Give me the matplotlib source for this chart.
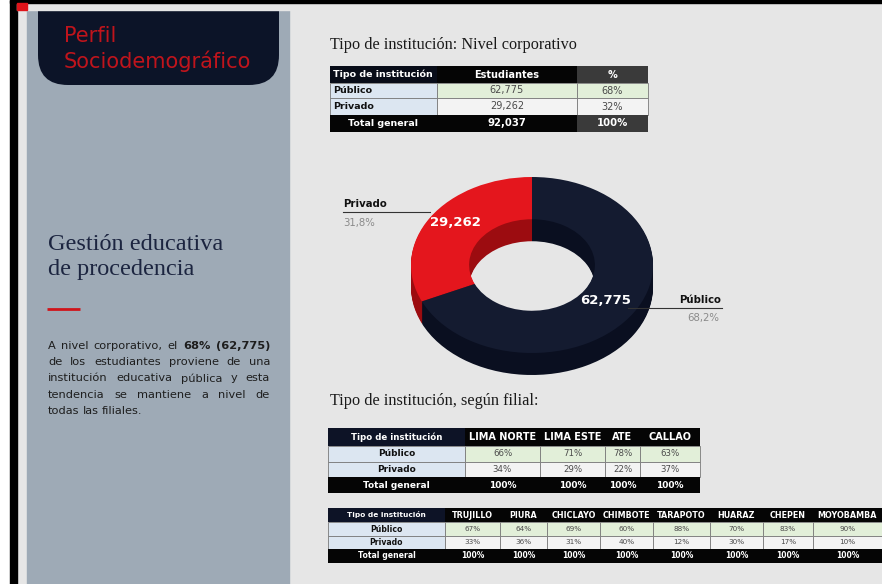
import matplotlib
matplotlib.use("Agg")
import matplotlib.pyplot as plt
from matplotlib.patches import Rectangle, FancyBboxPatch

# ---------------- data ----------------
tipos = ["Público", "Privado"]
estudiantes = [62775, 29262]
filiales_lima = ["LIMA NORTE", "LIMA ESTE", "ATE", "CALLAO"]
publico_lima = [66, 71, 78, 63]
privado_lima = [34, 29, 22, 37]
filiales_prov = ["TRUJILLO", "PIURA", "CHICLAYO", "CHIMBOTE", "TARAPOTO",
                 "HUARAZ", "CHEPEN", "MOYOBAMBA"]
publico_prov = [67, 64, 69, 60, 88, 70, 83, 90]
privado_prov = [33, 36, 31, 40, 12, 30, 17, 10]

total = sum(estudiantes)
pcts = [round(v / total * 100) for v in estudiantes]

W, H = 882, 584
fig = plt.figure(figsize=(W / 100, H / 100), dpi=100)
fig.patch.set_facecolor("#e6e6e6")

bg = fig.add_axes([0, 0, 1, 1])
bg.set_xlim(0, W); bg.set_ylim(H, 0); bg.axis("off")

SANS = ["DejaVu Sans"]
SERIF = ["Liberation Serif", "DejaVu Serif"]
RED = "#e4161d"

# ---- page frame & left panel ----
bg.add_patch(Rectangle((0, 0), W, H, color="#e6e6e6", zorder=0))
bg.add_patch(Rectangle((0, 0), 10, H, color="white", zorder=1))
bg.add_patch(Rectangle((10, 0), 7, H, color="black", zorder=1))
bg.add_patch(Rectangle((27, 10), 262, H - 10, color="#9eaab6", zorder=1))
hdr = FancyBboxPatch((38, -40), 241, 125, boxstyle="round,pad=0,rounding_size=30",
                     facecolor="#0c1428", edgecolor="none", zorder=2)
bg.add_patch(hdr)
bg.add_patch(Rectangle((17, 0), W - 17, 10, color="#e6e6e6", zorder=3))
bg.add_patch(Rectangle((10, 0), W - 10, 2.5, color="black", zorder=4))
bg.add_patch(Rectangle((17, 3), 10, 7, color="#e0141a", zorder=4))

bg.text(64, 36, "Perfil", color="#c0141c", fontsize=15, family=SANS, va="center", zorder=5)
bg.text(64, 61, "Sociodemográfico", color="#c0141c", fontsize=15, family=SANS, va="center", zorder=5)

bg.text(48, 245, "Gestión educativa", color="#1c2540", fontsize=17.5, family=SERIF, va="center", zorder=5)
bg.text(48, 270, "de procedencia", color="#1c2540", fontsize=17.5, family=SERIF, va="center", zorder=5)
bg.plot([47, 80], [309, 309], color="#d0141a", lw=2, zorder=5, solid_capstyle="butt")

# ---- justified paragraph ----
para_lines = [
    f"A nivel corporativo, el {pcts[0]}% ({estudiantes[0]:,})",
    "de los estudiantes proviene de una",
    "institución educativa pública y esta",
    "tendencia se mantiene a nivel de",
    "todas las filiales.",
]
bold_words = {f"{pcts[0]}%", f"({estudiantes[0]:,})"}
renderer = fig.canvas.get_renderer()
x0, x1, y0, dy = 48, 270, 346, 16.2
for i, line in enumerate(para_lines):
    words = line.split()
    arts = [bg.text(0, y0 + i * dy, w, fontsize=8.2, family=SANS, color="#1e1e1e",
                    fontweight="bold" if w in bold_words else "normal",
                    va="center", ha="left", zorder=5) for w in words]
    widths = [a.get_window_extent(renderer).width for a in arts]
    if i == len(para_lines) - 1:
        gap = 3
    else:
        gap = (x1 - x0 - sum(widths)) / (len(words) - 1)
    x = x0
    for a, wd in zip(arts, widths):
        a.set_x(x)
        x += wd + gap

# ---- titles ----
bg.text(330, 45, "Tipo de institución: Nivel corporativo", fontsize=11.7, family=SERIF,
        color="#1a1a1a", va="center", zorder=5)
bg.text(330, 401, "Tipo de institución, según filial:", fontsize=11.7, family=SERIF,
        color="#1a1a1a", va="center", zorder=5)


# ---- generic table ----
def draw_table(cols, rows_y, header, body, foot, hsize, lsize, vsize,
               label_left=False, dark_last=False, first_hdr="#0d1326"):
    nrow = len(body)
    for c in range(len(header)):
        xa, xb = cols[c], cols[c + 1]
        fc = first_hdr if c == 0 else "#050505"
        if dark_last and c == len(header) - 1:
            fc = "#3a3a3a"
        bg.add_patch(Rectangle((xa, rows_y[0]), xb - xa, rows_y[1] - rows_y[0],
                               facecolor=fc, edgecolor="none", zorder=5))
        if c == 0 and label_left:
            bg.text(xa + 3, (rows_y[0] + rows_y[1]) / 2, header[c], color="white",
                    fontsize=lsize, fontweight="bold", family=SANS, va="center", ha="left", zorder=6)
        else:
            bg.text((xa + xb) / 2, (rows_y[0] + rows_y[1]) / 2, header[c], color="white",
                    fontsize=hsize if c else lsize * 0.95, fontweight="bold", family=SANS,
                    va="center", ha="center", zorder=6)
    for r in range(nrow):
        ya, yb = rows_y[r + 1], rows_y[r + 2]
        for c in range(len(header)):
            xa, xb = cols[c], cols[c + 1]
            if c == 0:
                fc = "#dce6f1"
            else:
                fc = "#e2efd9" if r == 0 else "#f3f3f3"
            bg.add_patch(Rectangle((xa, ya), xb - xa, yb - ya, facecolor=fc,
                                   edgecolor="#7a7a7a", lw=0.6, zorder=5))
            if c == 0:
                if label_left:
                    bg.text(xa + 3, (ya + yb) / 2, body[r][c], color="#111111", fontsize=lsize,
                            fontweight="bold", family=SANS, va="center", ha="left", zorder=6)
                else:
                    bg.text((xa + xb) / 2, (ya + yb) / 2, body[r][c], color="#111111",
                            fontsize=lsize, fontweight="bold", family=SANS,
                            va="center", ha="center", zorder=6)
            else:
                bg.text((xa + xb) / 2, (ya + yb) / 2, body[r][c], color="#4a4a4a",
                        fontsize=vsize, family=SANS, va="center", ha="center", zorder=6)
    ya, yb = rows_y[-2], rows_y[-1]
    for c in range(len(header)):
        xa, xb = cols[c], cols[c + 1]
        fc = "#050505"
        if dark_last and c == len(header) - 1:
            fc = "#3a3a3a"
        bg.add_patch(Rectangle((xa, ya), xb - xa, yb - ya, facecolor=fc,
                               edgecolor="none", zorder=5))
        bg.text((xa + xb) / 2, (ya + yb) / 2, foot[c], color="white",
                fontsize=lsize if c == 0 else vsize + 0.3, fontweight="bold", family=SANS,
                va="center", ha="center", zorder=6)


# table 1
t1_body = [[tipos[i], f"{estudiantes[i]:,}", f"{pcts[i]}%"] for i in range(2)]
t1_foot = ["Total general", f"{total:,}", f"{sum(pcts)}%"]
draw_table([330, 437, 577, 648], [66, 83, 98, 115, 132],
           ["Tipo de institución", "Estudiantes", "%"], t1_body, t1_foot,
           hsize=7, lsize=6.8, vsize=7, label_left=True, dark_last=True, first_hdr="#080c18")

# table 2
t2_body = [[tipos[0]] + [f"{v}%" for v in publico_lima],
           [tipos[1]] + [f"{v}%" for v in privado_lima]]
t2_foot = ["Total general"] + [f"{a + b}%" for a, b in zip(publico_lima, privado_lima)]
draw_table([328, 465, 540, 605, 640, 700], [428, 446, 462, 477, 493],
           ["Tipo de institución"] + filiales_lima, t2_body, t2_foot,
           hsize=7, lsize=6.5, vsize=6.2)

# table 3
t3_body = [[tipos[0]] + [f"{v}%" for v in publico_prov],
           [tipos[1]] + [f"{v}%" for v in privado_prov]]
t3_foot = ["Total general"] + [f"{a + b}%" for a, b in zip(publico_prov, privado_prov)]
draw_table([328, 445, 500, 547, 600, 653, 710, 763, 813, 882], [508, 522, 536, 549, 563],
           ["Tipo de institución"] + filiales_prov, t3_body, t3_foot,
           hsize=5.8, lsize=5.6, vsize=5.2)

# ---- 3D-like donut ----
cx, cy, rx, ry, depth = 532, 265, 121, 88, 22
L, R, T, B = 395, 670, 160, 395
dax = fig.add_axes([L / W, 1 - B / H, (R - L) / W, (B - T) / H])
vals = [estudiantes[1], estudiantes[0]]
top_cols = [RED, "#141b30"]
side_cols = ["#9c0c10", "#0a0f20"]
for k in range(depth, 0, -1):
    dax.pie(vals, colors=side_cols, startangle=90, counterclock=True,
            center=(0, -k / ry), radius=1,
            wedgeprops=dict(width=0.48, edgecolor="none", linewidth=0))
dax.pie(vals, colors=top_cols, startangle=90, counterclock=True,
        center=(0, 0), radius=1,
        wedgeprops=dict(width=0.48, edgecolor="none", linewidth=0))
dax.set_aspect("auto")
dax.set_xlim((L - cx) / rx, (R - cx) / rx)
dax.set_ylim((cy - B) / ry, (cy - T) / ry)
dax.axis("off")

# ---- labels over donut ----
top = fig.add_axes([0, 0, 1, 1])
top.set_xlim(0, W); top.set_ylim(H, 0); top.axis("off")
top.patch.set_alpha(0)
top.text(455, 223, f"{estudiantes[1]:,}", color="white", fontsize=9.5, fontweight="bold",
         family=SANS, ha="center", va="center")
top.text(606, 300, f"{estudiantes[0]:,}", color="white", fontsize=9.5, fontweight="bold",
         family=SANS, ha="center", va="center")

share = [v / total * 100 for v in estudiantes]
top.plot([343, 430], [212, 212], color="#333333", lw=0.8)
top.text(343, 209, tipos[1], fontsize=7.3, fontweight="bold", family=SANS,
         color="#111111", ha="left", va="bottom")
top.text(343, 223, f"{share[1]:.1f}%".replace(".", ","), fontsize=7.3, family=SANS,
         color="#8a8a8a", ha="left", va="center")
top.plot([628, 722], [308, 308], color="#333333", lw=0.8)
top.text(721, 305, tipos[0], fontsize=7.3, fontweight="bold", family=SANS,
         color="#111111", ha="right", va="bottom")
top.text(719, 318, f"{share[0]:.1f}%".replace(".", ","), fontsize=7.3, family=SANS,
         color="#8a8a8a", ha="right", va="center")

fig.savefig("out.png", dpi=100, facecolor=fig.get_facecolor())
